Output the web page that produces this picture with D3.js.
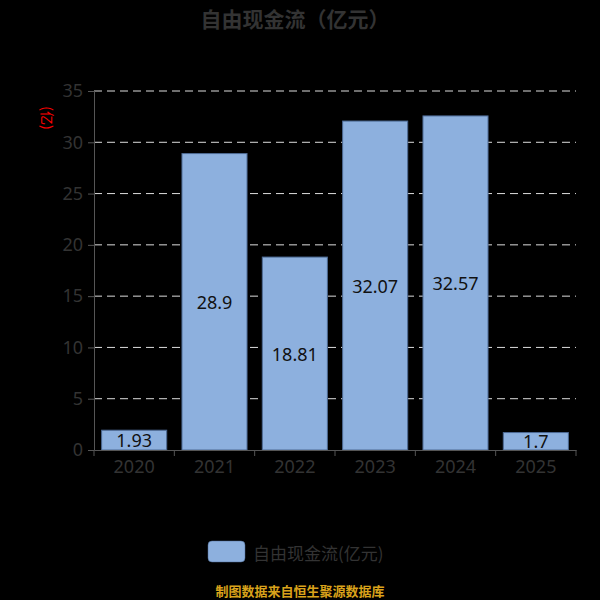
<!DOCTYPE html>
<html>
<head>
<meta charset="utf-8">
<script src="https://cdn.jsdelivr.net/npm/d3@7"></script>
<style>
  html, body { margin: 0; padding: 0; background: #000; }
  text { font-family: "Noto Sans", "Noto Sans CJK SC", sans-serif; }
</style>
</head>
<body>
<div id="chart"></div>
<script>
// chart data
const years = ['2020', '2021', '2022', '2023', '2024', '2025'];
const values = [1.93, 28.9, 18.81, 32.07, 32.57, 1.7];
const yTicks = [0, 5, 10, 15, 20, 25, 30, 35];

const width = 600;
const height = 600;
const margin = { top: 91, right: 24, bottom: 150, left: 94 };

const svg = d3.select('#chart')
    .append('svg')
    .attr('width', width)
    .attr('height', height);

// scales
const x = d3.scaleBand()
    .domain(years)
    .range([margin.left, width - margin.right])
    .paddingInner(0.19)
    .paddingOuter(0.095);

const y = d3.scaleLinear()
    .domain([0, 35])
    .range([height - margin.bottom, margin.top]);

// title
svg.append('text')
    .text('自由现金流（亿元）')
    .attr('x', 295)
    .attr('y', 18)
    .attr('text-anchor', 'middle')
    .attr('dominant-baseline', 'central')
    .attr('fill', '#333')
    .style('font-family', '"Noto Sans CJK SC", sans-serif')
    .style('font-size', '21px')
    .style('font-weight', 'bold');

// grid lines
svg.append('g')
    .selectAll('line')
    .data(yTicks.filter(d => d > 0))
    .enter()
    .append('line')
    .attr('x1', margin.left)
    .attr('x2', width - margin.right)
    .attr('y1', d => y(d))
    .attr('y2', d => y(d))
    .attr('stroke', '#ddd')
    .attr('stroke-width', 1)
    .attr('stroke-dasharray', '8,5');

// y axis
const yAxis = svg.append('g')
    .attr('transform', `translate(${margin.left},0)`)
    .call(d3.axisLeft(y).tickValues(yTicks).tickSize(6).tickPadding(5));
yAxis.select('.domain').attr('stroke', '#555');
yAxis.selectAll('.tick line').attr('stroke', '#555');
yAxis.selectAll('.tick text')
    .attr('fill', '#333')
    .style('font-size', '18px');

// unit label
svg.append('text')
    .text('(亿)')
    .attr('transform', 'translate(48,118) rotate(90)')
    .attr('text-anchor', 'middle')
    .attr('dominant-baseline', 'central')
    .attr('fill', '#f00')
    .style('font-family', '"Noto Sans CJK SC", sans-serif')
    .style('font-size', '14px');

// bars
const bars = svg.append('g')
    .selectAll('g')
    .data(values)
    .enter()
    .append('g');

bars.append('rect')
    .attr('x', (d, i) => x(years[i]))
    .attr('y', d => y(d))
    .attr('width', x.bandwidth())
    .attr('height', d => y(0) - y(d))
    .attr('fill', '#8DB0DE')
    .attr('stroke', '#4d6a94')
    .attr('stroke-width', 1);

bars.append('text')
    .text(d => d)
    .attr('x', (d, i) => x(years[i]) + x.bandwidth() / 2)
    .attr('y', d => (y(d) + y(0)) / 2)
    .attr('text-anchor', 'middle')
    .attr('dominant-baseline', 'central')
    .attr('fill', '#111')
    .style('font-size', '18px');

// x axis
const xAxis = svg.append('g')
    .attr('transform', `translate(0,${y(0)})`)
    .call(d3.axisBottom(x).tickSize(0).tickPadding(10));
xAxis.select('.domain').attr('stroke', '#555');
xAxis.selectAll('.tick text')
    .attr('fill', '#333')
    .style('font-size', '18px');

// boundary ticks between categories
xAxis.append('g')
    .selectAll('line')
    .data(years.concat(['end']))
    .enter()
    .append('line')
    .attr('x1', (d, i) => margin.left + i * (width - margin.left - margin.right) / years.length)
    .attr('x2', (d, i) => margin.left + i * (width - margin.left - margin.right) / years.length)
    .attr('y1', 0)
    .attr('y2', 6)
    .attr('stroke', '#555');

// legend
svg.append('rect')
    .attr('x', 208)
    .attr('y', 541)
    .attr('width', 37)
    .attr('height', 21)
    .attr('rx', 4)
    .attr('fill', '#8DB0DE')
    .attr('stroke', '#4d6a94')
    .attr('stroke-width', 0.5);

svg.append('text')
    .text('自由现金流(亿元)')
    .attr('x', 253)
    .attr('y', 552)
    .attr('dominant-baseline', 'central')
    .attr('fill', '#333')
    .style('font-family', '"Noto Sans CJK SC", sans-serif')
    .style('font-size', '17px');

// source note
svg.append('text')
    .text('制图数据来自恒生聚源数据库')
    .attr('x', 300)
    .attr('y', 590)
    .attr('text-anchor', 'middle')
    .attr('dominant-baseline', 'central')
    .attr('fill', '#d9a21b')
    .style('font-family', '"Noto Sans CJK SC", sans-serif')
    .style('font-size', '13px')
    .style('font-weight', 'bold');
</script>
</body>
</html>
